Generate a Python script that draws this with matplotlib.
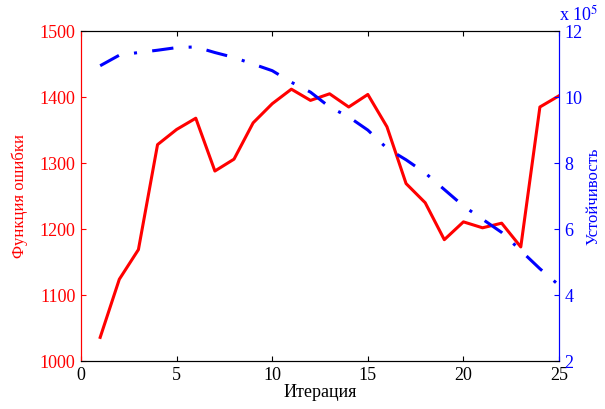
import numpy as np
import matplotlib.pyplot as plt

plt.rcParams['font.family'] = ['Liberation Serif', 'DejaVu Serif']
plt.rcParams['mathtext.fontset'] = 'stix'

iterations = list(range(1, 26))
error_fn = [1036, 1124, 1169, 1328, 1351, 1368, 1288, 1306, 1361, 1390,
            1412, 1395, 1405, 1385, 1404, 1355, 1269, 1240, 1184, 1211,
            1202, 1209, 1173, 1385, 1402]
stability = [10.95, 11.27, 11.35, 11.42, 11.50, 11.52, 11.35, 11.2, 11.0, 10.8,
             10.45, 10.15, 9.7, 9.4, 9.0, 8.45, 8.1, 7.7, 7.2, 6.7,
             6.3, 5.9, 5.35, 4.8, 4.3]

fig = plt.figure(figsize=(6.05, 4.09), dpi=100)
ax = fig.add_axes([0.134, 0.117, 0.790, 0.807])
ax2 = ax.twinx()

ax.plot(iterations, error_fn, color='red', lw=2.2)
ax2.plot(iterations, stability, color='blue', lw=2.2, dashes=(7, 5, 1, 5))

ax.set_xlim(0, 25)
ax.set_ylim(1000, 1500)
ax2.set_ylim(2, 12)
ax.set_xticks([0, 5, 10, 15, 20, 25])
ax.set_yticks([1000, 1100, 1200, 1300, 1400, 1500])
ax2.set_yticks([2, 4, 6, 8, 10, 12])

ax.tick_params(axis='x', direction='in', top=True, labelsize=13, pad=4)
ax.tick_params(axis='y', direction='in', colors='red', labelsize=13, pad=4)
ax2.tick_params(axis='y', direction='in', colors='blue', labelsize=13, pad=4)

ax.spines['left'].set_color('red')
ax2.spines['left'].set_color('red')
ax2.spines['right'].set_color('blue')
ax.spines['right'].set_color('blue')

ax.set_xlabel('Итерация', fontsize=13, labelpad=0)
ax.set_ylabel('Функция ошибки', color='red', fontsize=12)
ax.yaxis.set_label_coords(-0.112, 0.5)
ax2.set_ylabel('Устойчивость', color='blue', fontsize=12)
ax2.yaxis.set_label_coords(1.055, 0.5)

ax2.text(1.0, 1.02, r'x 10$^5$', transform=ax2.transAxes, color='blue',
         fontsize=13, ha='left', va='bottom')

fig.savefig('out.png', dpi=100)
